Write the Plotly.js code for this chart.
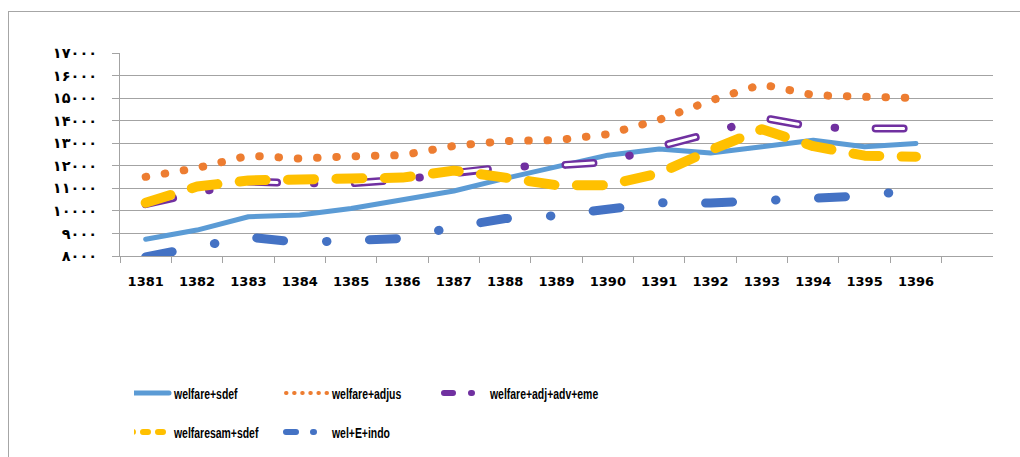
<!DOCTYPE html>
<html>
<head>
<meta charset="utf-8">
<script src="https://cdn.plot.ly/plotly-3.0.1.min.js"></script>
<style>
  html, body { margin: 0; padding: 0; background: #fff; overflow: hidden; }
  #chart { position: absolute; left: 0; top: 0; width: 1020px; height: 457px; }
  #frame { position: absolute; left: 8px; top: 11px; width: 3000px; height: 3000px;
           border-left: 1px solid #A6A6A6; border-top: 1px solid #A6A6A6; pointer-events: none; }
  .scatterlayer path.js-line { stroke-linecap: round; stroke-linejoin: round; }
  .infolayer .legendlines path {
    stroke-linecap: round; stroke-linejoin: round; d: path("M-6,0h41"); }
</style>
</head>
<body>
<div id="chart"></div>
<div id="frame"></div>
<script>
// ---- data ----
const years = ['1381','1382','1383','1384','1385','1386','1387','1388',
               '1389','1390','1391','1392','1393','1394','1395','1396'];
const welfareSdef   = [8740, 9150, 9740, 9815, 10110, 10480, 10880, 11440,
                       11950, 12470, 12740, 12570, 12840, 13130, 12840, 12990];
const welfareAdjus  = [11510, 11900, 12450, 12320, 12420, 12470, 12880, 13100,
                       13135, 13400, 14040, 14890, 15610, 15130, 15060, 15010];
const welfareAdjAdvEme = [10300, 10830, 11300, 11220, 11220, 11390, 11700, 11940,
                          12015, 12160, 12850, 13440, 14130, 13720, 13650, 13650];
const welfaresamSdef = [10360, 11080, 11350, 11440, 11440, 11475, 11785, 11475,
                        11140, 11140, 11670, 12690, 13620, 12870, 12450, 12400];
const welEIndo      = [7960, 8350, 8840, 8600, 8730, 8780, 9280, 9660,
                       9790, 10080, 10360, 10350, 10460, 10490, 10665, 10945];
const seriesNames = ['welfare+sdef', 'welfare+adjus', 'welfare+adj+adv+eme',
                     'welfaresam+sdef', 'wel+E+indo'];
const yTickVals = [8000, 9000, 10000, 11000, 12000, 13000, 14000, 15000, 16000, 17000];
const yTickText = ['۸۰۰۰','۹۰۰۰','۱۰۰۰۰','۱۱۰۰۰','۱۲۰۰۰','۱۳۰۰۰','۱۴۰۰۰','۱۵۰۰۰','۱۶۰۰۰','۱۷۰۰۰'];

// ---- styles ----
const C = { blueL: '#5B9BD5', orange: '#ED7D31', purple: '#7030A0', yellow: '#FFC000', blueD: '#4472C4' };

const traces = [
  { x: years, y: welfareSdef, type: 'scatter', mode: 'lines', showlegend: false,
    line: { color: C.blueL, width: 5 } },
  { x: years, y: welfareAdjus, type: 'scatter', mode: 'lines', showlegend: false,
    line: { color: C.orange, width: 8, dash: '0.5px,18.8px' } },
  { x: years, y: welfareAdjAdvEme, type: 'scatter', mode: 'lines', showlegend: false,
    line: { color: C.purple, width: 8, dash: '28px,36.8px,0.5px,40.5px' } },
  { x: years, y: welfareAdjAdvEme, type: 'scatter', mode: 'lines', showlegend: false,
    line: { color: '#FFFFFF', width: 3, dash: '28px,77.8px' } },
  { x: years, y: welfaresamSdef, type: 'scatter', mode: 'lines', showlegend: false,
    line: { color: C.yellow, width: 10, dash: '26px,22.4px' } },
  { x: years, y: welEIndo, type: 'scatter', mode: 'lines', showlegend: false,
    line: { color: C.blueD, width: 9, dash: '27px,43px,0.5px,42.5px' } },
  // legend entries
  { x: [null], y: [null], type: 'scatter', mode: 'lines', name: seriesNames[0], legend: 'legend',
    line: { color: C.blueL, width: 5 } },
  { x: [null], y: [null], type: 'scatter', mode: 'lines', name: seriesNames[1], legend: 'legend',
    line: { color: C.orange, width: 4, dash: '0.5px,7.6px' } },
  { x: [null], y: [null], type: 'scatter', mode: 'lines', name: seriesNames[2], legend: 'legend',
    legendwidth: 220,
    line: { color: C.purple, width: 6, dash: '9px,18px,1px,60px' } },
  { x: [null], y: [null], type: 'scatter', mode: 'lines', name: seriesNames[3], legend: 'legend2',
    line: { color: C.yellow, width: 6, dash: '5px,10px' } },
  { x: [null], y: [null], type: 'scatter', mode: 'lines', name: seriesNames[4], legend: 'legend2',
    legendwidth: 220,
    line: { color: C.blueD, width: 6, dash: '10px,17px,1px,60px' } }
];

const legendFont = { family: '"Liberation Sans", Arial, sans-serif', size: 14.5, color: '#000', weight: 'bold' };
const legendBase = {
  orientation: 'h', xref: 'container', yref: 'container', xanchor: 'left', yanchor: 'middle',
  entrywidth: 113, entrywidthmode: 'pixels', bgcolor: 'rgba(0,0,0,0)', borderwidth: 0,
  itemclick: false, itemdoubleclick: false
};

const layout = {
  width: 1020, height: 457,
  margin: { l: 120, r: 27, t: 53, b: 201, autoexpand: false },
  paper_bgcolor: '#fff', plot_bgcolor: '#fff',
  showlegend: true,
  hovermode: false,
  xaxis: {
    type: 'category', categoryorder: 'array', categoryarray: years,
    range: [-0.5, 16.5], fixedrange: true,
    showline: true, linecolor: '#A3A3A3', linewidth: 1,
    ticks: 'outside', tickson: 'boundaries', ticklen: 6, tickcolor: '#A3A3A3', tickwidth: 1,
    ticklabelstandoff: 13,
    showgrid: false, zeroline: false,
    tickfont: { family: '"DejaVu Sans", sans-serif', size: 13, color: '#000', weight: 'bold' }
  },
  yaxis: {
    range: [8000, 17000], fixedrange: true,
    tickmode: 'array', tickvals: yTickVals, ticktext: yTickText,
    showline: true, linecolor: '#A3A3A3', linewidth: 1,
    ticks: 'outside', ticklen: 7, tickcolor: '#A3A3A3', tickwidth: 1,
    ticklabelstandoff: 12,
    showgrid: true, gridcolor: '#A3A3A3', gridwidth: 1.2, zeroline: false,
    tickfont: { family: '"DejaVu Sans", sans-serif', size: 14.5, color: '#000', weight: 'bold' }
  },
  legend: Object.assign({}, legendBase, { font: Object.assign({}, legendFont), x: 134 / 1020, y: 1 - 393 / 457 }),
  legend2: Object.assign({}, legendBase, { font: Object.assign({}, legendFont), x: 134 / 1020, y: 1 - 432 / 457 })
};

// condense legend text (the reference uses a narrow Calibri-like face)
function condenseLegendText() {
  const gd = document.getElementById('chart');
  gd.querySelectorAll('.infolayer text').forEach(function (el) {
    const name = el.textContent;
    if (seriesNames.indexOf(name) < 0) return;
    if (el.getAttribute('data-condensed') === name) return;
    el.removeAttribute('textLength');
    const w = el.getComputedTextLength();
    el.setAttribute('textLength', (w * 0.72).toFixed(1));
    el.setAttribute('lengthAdjust', 'spacingAndGlyphs');
    el.setAttribute('data-condensed', name);
  });
}

const gdEl = document.getElementById('chart');
Plotly.newPlot(gdEl, traces, layout, { staticPlot: true, displayModeBar: false })
  .then(function () {
    condenseLegendText();
    gdEl.on('plotly_afterplot', condenseLegendText);
    new MutationObserver(condenseLegendText).observe(gdEl, { childList: true, subtree: true });
    setTimeout(condenseLegendText, 50);
    setTimeout(condenseLegendText, 300);
  });
</script>
</body>
</html>
